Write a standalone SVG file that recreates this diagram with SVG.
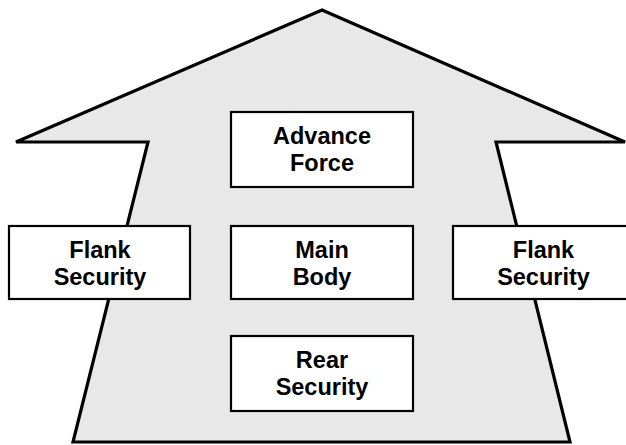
<svg xmlns="http://www.w3.org/2000/svg" width="626" height="445" viewBox="0 0 626 445">
<style>
.box{fill:#ffffff;stroke:#000000;stroke-width:2.2}
.lbl{font-family:"Liberation Sans",Arial,sans-serif;font-weight:bold;font-size:23.5px;fill:#000000;text-anchor:middle}
.arrow{fill:#e8e8e8;stroke:#000000;stroke-width:3.2;stroke-linejoin:miter}
</style>
<rect width="626" height="445" fill="#ffffff"/>
<g id="arrow">
<path class="arrow" d="M322,10 L625,142 L496,142 L570,442 L73,442 L148,142 L16,142 Z"/>
</g>
<g id="connectors"></g>
<g id="advance-force">
<rect class="box" x="231" y="112" width="182" height="75"/>
<text class="lbl" x="322" y="144">Advance</text>
<text class="lbl" x="322" y="171">Force</text>
</g>
<g id="main-body">
<rect class="box" x="231" y="226" width="182" height="73"/>
<text class="lbl" x="322" y="258">Main</text>
<text class="lbl" x="322" y="285">Body</text>
</g>
<g id="rear-security">
<rect class="box" x="231" y="336" width="182" height="75"/>
<text class="lbl" x="322" y="368">Rear</text>
<text class="lbl" x="322" y="395">Security</text>
</g>
<g id="flank-left">
<rect class="box" x="9" y="226" width="181" height="73"/>
<text class="lbl" x="100" y="258">Flank</text>
<text class="lbl" x="100" y="285">Security</text>
</g>
<g id="flank-right">
<rect class="box" x="453" y="226" width="181" height="73"/>
<text class="lbl" x="543.5" y="258">Flank</text>
<text class="lbl" x="543.5" y="285">Security</text>
</g>
</svg>
